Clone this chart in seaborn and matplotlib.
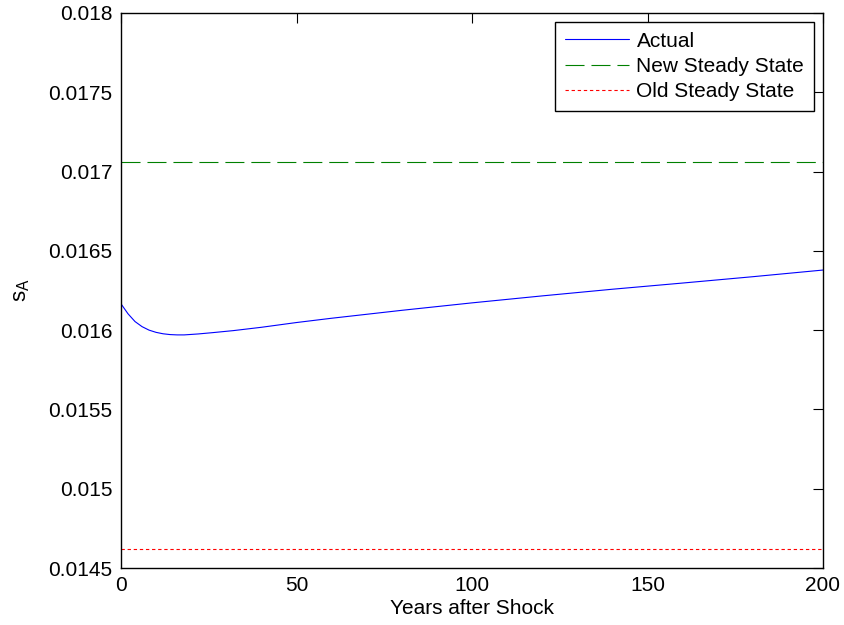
import matplotlib
matplotlib.use("Agg")
import matplotlib.pyplot as plt
from matplotlib.ticker import FuncFormatter, MultipleLocator
import pandas as pd
import seaborn as sns

# values
years = [0, 2, 4, 6, 8, 10, 12, 14, 16, 18, 22, 26, 32, 40, 50, 60,
         80, 100, 120, 140, 160, 180, 200]
actual = [0.016166, 0.016103, 0.016054, 0.016022, 0.016000, 0.015986,
          0.015977, 0.015972, 0.015970, 0.015970, 0.015976, 0.015984,
          0.015997, 0.016018, 0.016048, 0.016075, 0.016125, 0.016172,
          0.016216, 0.016258, 0.016297, 0.016337, 0.016379]
new_steady_state = 0.01706
old_steady_state = 0.01462
x_ticks = [0, 50, 100, 150, 200]

sns.set_theme(style="white")
plt.rcParams["font.family"] = ["Liberation Sans", "DejaVu Sans"]
plt.rcParams["mathtext.fontset"] = "custom"
plt.rcParams["mathtext.rm"] = "Liberation Sans"
plt.rcParams["text.color"] = "black"
plt.rcParams["axes.labelcolor"] = "black"

df = pd.DataFrame({"year": years, "s_A": actual})
lw = 0.8

fig = plt.figure(figsize=(8.44, 6.25), dpi=100)
ax = fig.add_axes([121 / 844, 57 / 625, 702 / 844, 555 / 625])

sns.lineplot(data=df, x="year", y="s_A", ax=ax, color="#0000ff",
             linewidth=lw, label="Actual")
ax.axhline(new_steady_state, color="#008000", linewidth=lw,
           linestyle=(0, (13.7 / lw, 5.0 / lw)), label="New Steady State")
ax.axhline(old_steady_state, color="#ff0000", linewidth=lw,
           linestyle=(0, (2.4 / lw, 2.0 / lw)), label="Old Steady State")

ax.set_xlim(0, 200)
ax.set_ylim(0.0145, 0.018)
ax.set_xticks(x_ticks)
ax.yaxis.set_major_locator(MultipleLocator(0.0005))
ax.yaxis.set_major_formatter(FuncFormatter(lambda v, p: "%g" % round(v, 6)))

ax.tick_params(direction="in", length=7, width=0.8, labelsize=15,
               top=True, right=True, colors="black", pad=6)
for s in ax.spines.values():
    s.set_color("black")
    s.set_linewidth(1.0)

ax.set_xlabel("Years after Shock", fontsize=15, labelpad=3, color="black")
ax.set_ylabel(r"$\mathregular{s_A}$", fontsize=16, labelpad=12, color="black")

leg = ax.legend(loc="upper right", fontsize=15, frameon=True, fancybox=False,
                edgecolor="black", framealpha=1, handlelength=3.1,
                handletextpad=0.35, labelspacing=0.3, borderpad=0.45,
                borderaxespad=0.45)
leg.get_frame().set_linewidth(1.0)
for t in leg.get_texts():
    t.set_color("black")

fig.savefig("out.png", dpi=100)
plt.close(fig)
